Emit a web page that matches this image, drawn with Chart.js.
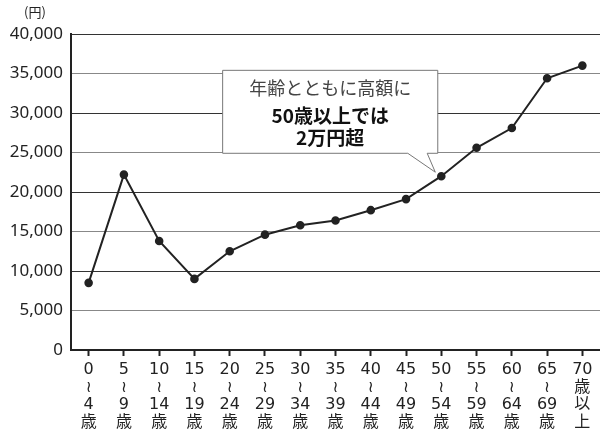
<!DOCTYPE html>
<html>
<head>
<meta charset="utf-8">
<script src="https://cdn.jsdelivr.net/npm/chart.js@4/dist/chart.umd.min.js"></script>
<style>
  html, body { margin: 0; padding: 0; background: #fff; }
  #wrap { position: relative; width: 600px; height: 429px; }
  #unit { position: absolute; left: 24px; top: 2px; font: 13px "Noto Sans CJK JP", sans-serif; color: #222; }
</style>
</head>
<body>
<div id="wrap">
  <canvas id="chart"></canvas>
  <div id="unit">(円)</div>
</div>
<script>
const ageGroups = [
    ["0", "≀", "4", "歳"], ["5", "≀", "9", "歳"], ["10", "≀", "14", "歳"], ["15", "≀", "19", "歳"],
    ["20", "≀", "24", "歳"], ["25", "≀", "29", "歳"], ["30", "≀", "34", "歳"], ["35", "≀", "39", "歳"],
    ["40", "≀", "44", "歳"], ["45", "≀", "49", "歳"], ["50", "≀", "54", "歳"], ["55", "≀", "59", "歳"],
    ["60", "≀", "64", "歳"], ["65", "≀", "69", "歳"], ["70", "歳", "以", "上"],
]
const amounts = [8500, 22200, 13800, 9000, 12500, 14600, 15800, 16400, 17700, 19100, 22000, 25600, 28100, 34400, 36000]
const yTicks = [0, 5000, 10000, 15000, 20000, 25000, 30000, 35000, 40000]
const calloutLines = [
    { text: "年齢とともに高額に", bold: false },
    { text: "50歳以上では", bold: true },
    { text: "2万円超", bold: true },
]

const FONT = '"Noto Sans CJK JP", "Noto Sans", sans-serif'
// DejaVu supplies the vertical wave (≀) between the ages
const TICK_FONT = '"DejaVu Sans", "Noto Sans CJK JP", sans-serif'

// speech bubble pointing at the 50-54 point
const callout = {
    id: "callout",
    afterDatasetsDraw(chart) {
        const { ctx, scales } = chart
        const x = scales.x, y = scales.y
        const left = x.getPixelForValue(3.8)
        const right = x.getPixelForValue(9.9)
        const top = y.getPixelForValue(35400)
        const bottom = y.getPixelForValue(24900)
        const tipX = x.getPixelForValue(10) - 6
        const tipY = y.getPixelForValue(22000) - 4
        const baseA = x.getPixelForValue(9.05)
        const baseB = x.getPixelForValue(9.6)

        ctx.save()
        ctx.fillStyle = "#fff"
        ctx.strokeStyle = "#777"
        ctx.lineWidth = 1
        ctx.beginPath()
        ctx.moveTo(left, top)
        ctx.lineTo(right, top)
        ctx.lineTo(right, bottom)
        ctx.lineTo(baseB, bottom)
        ctx.lineTo(tipX, tipY)
        ctx.lineTo(baseA, bottom)
        ctx.lineTo(left, bottom)
        ctx.closePath()
        ctx.fill()
        ctx.stroke()

        ctx.textAlign = "center"
        ctx.textBaseline = "middle"
        const cx = (left + right) / 2
        const offsets = [18, 45, 67]
        calloutLines.forEach((line, i) => {
            ctx.font = (line.bold ? "bold 19px " : "18px ") + FONT
            ctx.fillStyle = line.bold ? "#111" : "#444"
            ctx.fillText(line.text, cx, top + offsets[i])
        })
        ctx.restore()
    },
}

new Chart(document.getElementById("chart"), {
    type: "line",
    data: {
        labels: ageGroups,
        datasets: [{
            data: amounts,
            borderColor: "#222",
            borderWidth: 2,
            backgroundColor: "#222",
            pointRadius: 3.3,
            pointBackgroundColor: "#222",
            tension: 0,
        }],
    },
    options: {
        responsive: true,
        maintainAspectRatio: false,
        animation: false,
        layout: { autoPadding: false, padding: { top: 34, right: 0, left: 0, bottom: 0 } },
        plugins: {
            legend: { display: false },
            tooltip: { enabled: false },
        },
        scales: {
            x: {
                offset: true,
                grid: {
                    offset: false,
                    drawOnChartArea: false,
                    tickLength: 6,
                    tickColor: "#222",
                    tickWidth: 2,
                },
                border: { color: "#222", width: 2 },
                ticks: {
                    autoSkip: false,
                    maxRotation: 0,
                    color: "#222",
                    padding: 5,
                    font: { family: TICK_FONT, size: 16, lineHeight: 1.1 },
                },
                afterFit: (scale) => {
                    scale.height = 79
                    scale.paddingLeft = 0
                    scale.paddingRight = 0
                },
            },
            y: {
                min: 0,
                max: 40000,
                afterBuildTicks: (scale) => { scale.ticks = yTicks.map((v) => ({ value: v })) },
                grid: {
                    color: (c) => (c.tick && c.tick.value % 10000 === 0 ? "#333" : "#888"),
                    lineWidth: 1,
                    drawTicks: false,
                },
                border: { color: "#222", width: 2 },
                ticks: {
                    color: "#222",
                    padding: 8,
                    font: { family: '"Noto Sans", sans-serif', size: 17 },
                    callback: (v) => v.toLocaleString("en-US"),
                },
                afterFit: (scale) => { scale.width = 71 },
            },
        },
    },
    plugins: [callout],
})
</script>
</body>
</html>
